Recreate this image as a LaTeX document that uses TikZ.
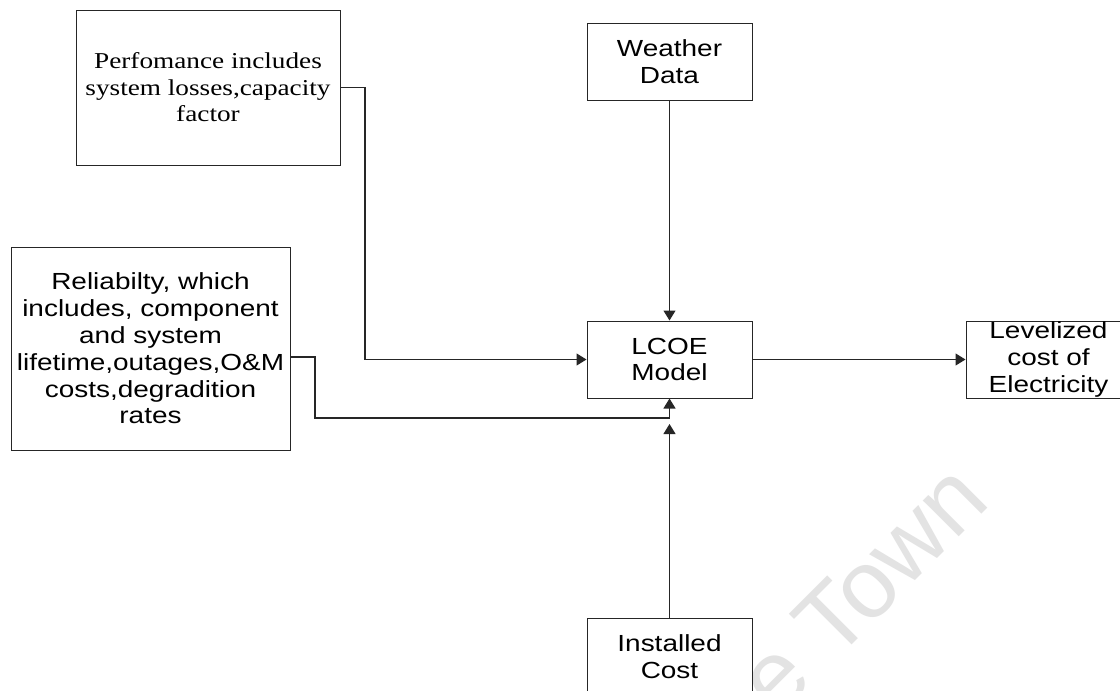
\documentclass[tikz,border=0pt]{standalone}
\usepackage{fontspec}
\setmainfont{Liberation Sans}[FakeStretch=1.2]
\newfontfamily\timesf{Liberation Serif}[FakeStretch=1.2]
\newfontfamily\wmfont{Liberation Sans}
\usetikzlibrary{arrows.meta}
\definecolor{wm}{HTML}{E3E3E3}
\tikzset{
  box/.style={draw=black!85, line width=1pt, inner sep=0pt, align=center,
    font=\fontsize{23.3}{26.8}\selectfont},
  serifbox/.style={box, font=\timesf\fontsize{22.7}{26.5}\selectfont},
  conn/.style={draw=black!85, line width=1.1pt},
  arr/.style={conn, -{Triangle[length=10pt,width=12pt]}},
}
\begin{document}
\begin{tikzpicture}[x=1pt,y=-1pt]
\useasboundingbox (0,0) rectangle (1120,691);
\clip (0,0) rectangle (1120,691);
\fill[white] (0,0) rectangle (1120,691);
% watermark
\node[text=wm, rotate=45, inner sep=0pt, font=\wmfont\fontsize{96}{110}\selectfont] (wmark) at (862,588) {e Town};
% boxes
\node[serifbox, minimum width=264pt, minimum height=155pt] (perf) at (208,87.5)
  {Perfomance includes\\system losses,capacity\\factor};
\node[box, minimum width=165pt, minimum height=77pt] (weather) at (669.5,61.5) {Weather\\Data};
\node[box, minimum width=279pt, minimum height=203pt] (rel) at (150.5,348.5)
  {Reliabilty, which\\includes, component\\and system\\lifetime,outages,O\&M\\costs,degradition\\rates};
\node[box, minimum width=165pt, minimum height=77pt] (lcoe) at (669.5,359.5) {LCOE\\Model};
\node[box, minimum width=165pt, minimum height=77pt] (lev) at (1048.5,359.5) {Levelized\\cost of\\Electricity};
\node[box, minimum width=165pt, minimum height=77pt] (inst) at (669.5,656.5) {Installed\\Cost};
% connectors
\coordinate (perfturn) at (365,87.5);
\coordinate (relout) at (290,357);
\coordinate (relturn) at (315,357);
\coordinate (reljoin) at (315,418);
\coordinate (instend) at (669.5,424);
\draw[arr] (perf.east) -- (perfturn) |- (lcoe.west);
\draw[arr] (weather.south) -- (lcoe.north);
\draw[arr] (relout) -- (relturn) -- (reljoin) -| (lcoe.south);
\draw[arr] (inst.north) -- (instend);
\draw[arr] (lcoe.east) -- (lev.west);
\end{tikzpicture}
\end{document}
